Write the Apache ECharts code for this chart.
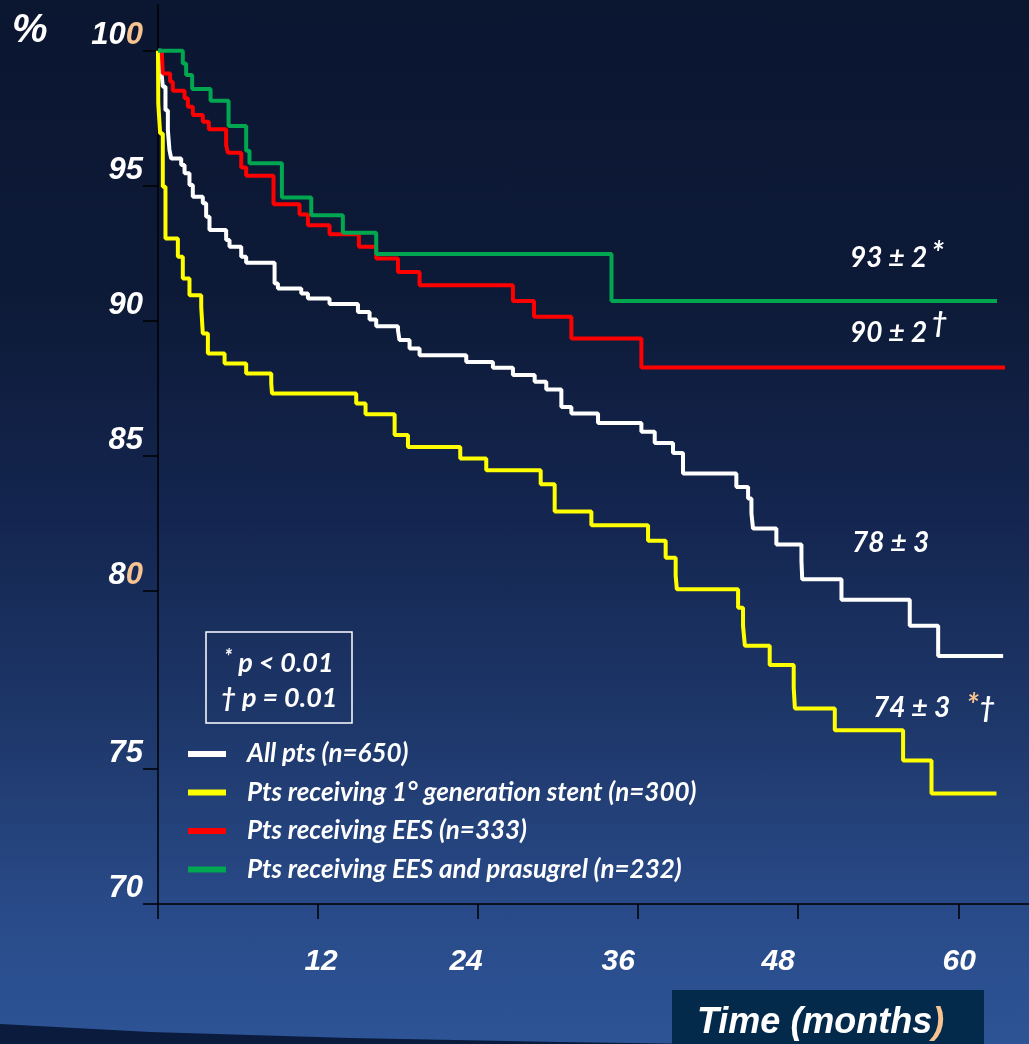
<!DOCTYPE html>
<html><head><meta charset="utf-8">
<script src="https://cdn.jsdelivr.net/npm/echarts@6/dist/echarts.min.js"></script>
<style>
html,body{margin:0;padding:0;}
#c{width:1029px;height:1044px;background:linear-gradient(to bottom,#0b1631 0%,#0d1a37 28%,#142650 50%,#1e386b 70%,#294a88 87%,#2d5496 100%);}
</style></head><body><div id="c"></div>
<script>
// ---------- DATA (months, survival %) ----------
const seriesNames = ['All pts (n=650)', 'Pts receiving 1\u00b0 generation stent (n=300)', 'Pts receiving EES (n=333)', 'Pts receiving EES and prasugrel (n=232)'];
const allPts = [[0,100],[0.24,99.29],[0.36,98.67],[0.56,97.80],[0.74,97.06],[0.86,96.32],[0.99,96.01],[1.74,95.77],[1.99,95.46],[2.36,95.03],[2.61,94.59],[3.36,94.35],[3.61,93.85],[3.86,93.36],[5.11,92.99],[5.36,92.74],[6.24,92.37],[6.61,92.15],[8.74,91.38],[8.99,91.20],[10.74,91.01],[11.24,90.83],[12.86,90.62],[14.99,90.33],[15.86,90.05],[16.36,89.80],[17.99,89.66],[18.1,89.29],[18.86,88.98],[19.61,88.73],[23.11,88.48],[25.11,88.26],[26.61,87.99],[28.24,87.74],[29.11,87.46],[30.24,86.81],[30.99,86.57],[32.99,86.22],[36.24,85.89],[37.24,85.48],[38.61,85.11],[39.36,84.35],[43.36,83.85],[44.24,83.42],[44.49,82.87],[44.61,82.31],[46.36,81.72],[48.24,81.11],[48.3,80.43],[51.24,79.75],[56.36,79.02],[58.49,78.17],[63.36,78.17]];
const firstGen = [[0,100],[0.02,98.05],[0.16,96.94],[0.36,94.96],[0.56,93.05],[1.49,92.37],[1.86,91.57],[2.36,90.95],[3.24,90.52],[3.36,89.53],[3.74,88.79],[4.99,88.42],[6.61,88.05],[8.49,87.68],[8.55,87.31],[14.86,86.94],[15.56,86.54],[17.74,85.77],[18.74,85.33],[22.66,84.90],[24.61,84.47],[28.69,83.95],[29.74,82.94],[32.49,82.43],[36.74,81.86],[38.06,81.23],[38.81,80.56],[38.9,80.06],[43.49,79.53],[43.86,79.02],[44.0,78.46],[45.86,77.92],[47.66,77.28],[47.75,76.70],[50.74,76.09],[55.86,75.24],[57.99,74.09],[62.86,74.09]];
const ees = [[0.28,100],[0.36,99.16],[0.91,98.85],[1.11,98.52],[1.99,98.24],[2.24,97.93],[2.61,97.62],[3.36,97.37],[3.81,97.09],[5.11,96.51],[5.24,96.22],[6.24,95.68],[6.61,95.37],[8.66,94.32],[10.61,93.94],[11.24,93.54],[12.86,93.21],[15.06,92.74],[16.36,92.31],[17.99,91.81],[19.61,91.32],[26.61,90.73],[28.19,90.15],[30.99,89.35],[36.24,88.27],[63.5,88.27]];
const eesPrasugrel = [[0,100],[1.86,99.53],[2.11,99.10],[2.56,98.58],[3.94,98.15],[5.29,97.21],[6.61,96.30],[6.86,95.83],[9.29,94.57],[11.49,93.91],[13.86,93.26],[16.36,92.47],[34.0,90.73],[62.9,90.73]];
const yTickValues = [70, 75, 80, 85, 90, 95, 100];
const xTickValues = [0, 12, 24, 36, 48, 60];
const xTickLabels = ['12', '24', '36', '48', '60'];
const endLabels = ['93 \u00b1 2', '90 \u00b1 2', '78 \u00b1 3', '74 \u00b1 3'];
const pValueLines = ['p < 0.01', '\u2020 p = 0.01'];

// ---------- LAYOUT ----------
const colors = ['#ffffff', '#ffff00', '#ff0000', '#00a650'];
const peach = '#f6c391';
// the original axis stretches the 75–80 band: relative segment lengths
const ySegLen = [5, 5 * 178 / 135, 5, 5, 5, 5];
const yPos = [0]; ySegLen.forEach(l => yPos.push(yPos[yPos.length - 1] + l));
function toAxis(v) {
  for (let i = 0; i < yTickValues.length - 1; i++) {
    if (v <= yTickValues[i + 1] || i === yTickValues.length - 2) {
      const t = (v - yTickValues[i]) / (yTickValues[i + 1] - yTickValues[i]);
      return yPos[i] + t * (yPos[i + 1] - yPos[i]);
    }
  }
}
const pxPerMonth = 160 / 12;
const xLabelNudgePx = [3, -12, -20, -20, 1];
const xLabelPos = xTickLabels.map((l, i) => +l + xLabelNudgePx[i] / pxPerMonth);
const yMax = yPos[yPos.length - 1] + 45.7 / 26.98;

const numFont = "'Liberation Sans', Arial, sans-serif";
const txtFont = "Lato, 'Liberation Sans', sans-serif";
const numStyle = {color: '#fff', fontSize: 31, fontWeight: 'bold', fontStyle: 'italic', fontFamily: numFont};
const annStyle = {fill: '#fff', fontSize: 28, fontFamily: txtFont, fontStyle: 'italic', fontWeight: 'bold'};

const chart = echarts.init(document.getElementById('c'), null, {renderer: 'canvas'});
const data = [allPts, firstGen, ees, eesPrasugrel];

chart.setOption({
  backgroundColor: 'transparent',
  animation: false,
  grid: {left: 158, right: 0, top: 5, bottom: 140, outerBoundsMode: 'none'},
  xAxis: {
    type: 'value', min: 0, max: 65.3,
    axisLine: {onZero: false, lineStyle: {color: '#000', width: 1.5}},
    axisTick: {customValues: xTickValues, length: 15, lineStyle: {color: '#000', width: 1.5}},
    axisLabel: {
      customValues: xLabelPos, margin: 43,
      formatter: v => { let b = 0; xLabelPos.forEach((p, i) => { if (Math.abs(p - v) < Math.abs(xLabelPos[b] - v)) b = i; }); return xTickLabels[b]; },
      ...numStyle, fontSize: 30
    },
    splitLine: {show: false}
  },
  yAxis: {
    type: 'value', min: 0, max: yMax,
    axisLine: {onZero: false, lineStyle: {color: '#000', width: 1.5}},
    axisTick: {customValues: yTickValues.map(toAxis), length: 15, lineStyle: {color: '#000', width: 1.5}},
    axisLabel: {
      customValues: yTickValues.map(toAxis), margin: 15, verticalAlign: 'bottom',
      formatter: v => {
        let b = 0; yPos.forEach((p, i) => { if (Math.abs(p - v) < Math.abs(yPos[b] - v)) b = i; });
        const t = String(yTickValues[b]);
        if (t === '100' || t === '80') return '{w|' + t.slice(0, -1) + '}{p|0}';
        return '{w|' + t + '}';
      },
      rich: {w: {...numStyle}, p: {...numStyle, color: peach}}
    },
    splitLine: {show: false}
  },
  legend: {
    orient: 'vertical', left: 188, top: 741, padding: 0, itemWidth: 38, itemHeight: 6, itemGap: 12.5,
    icon: 'rect', selectedMode: false, data: seriesNames,
    textStyle: {color: '#fff', fontFamily: txtFont, fontStyle: 'italic', fontWeight: 'bold', fontSize: 26, lineHeight: 24, padding: [0, 0, 0, 16]}
  },
  series: data.map((d, i) => ({
    name: seriesNames[i], type: 'line', step: 'end', showSymbol: false, symbol: 'none',
    color: colors[i], lineStyle: {color: colors[i], width: 4},
    data: d.map(([m, v]) => [m, toAxis(v)])
  })),
  graphic: [
    {type: 'polygon', shape: {points: [[0, 1024], [150, 1032], [350, 1038], [560, 1042], [700, 1044], [0, 1044]]}, style: {fill: '#0a1b3d'}},
    {type: 'text', x: 12, y: 31, style: {text: '%', fill: '#fff', font: "italic bold 40px " + numFont, verticalAlign: 'middle'}},
    {type: 'rect', shape: {x: 206, y: 632, width: 146, height: 91}, style: {fill: 'none', stroke: '#fff', lineWidth: 1.5}},
    {type: 'text', x: 279, y: 663, style: {text: '{s|*}{t| ' + pValueLines[0] + '}', align: 'center', verticalAlign: 'middle',
      rich: {s: {...annStyle, fontSize: 20, padding: [0, 0, 10, 0]}, t: {...annStyle, fontSize: 27}}}},
    {type: 'text', x: 279, y: 698, style: {text: pValueLines[1], align: 'center', verticalAlign: 'middle', fill: '#fff', font: "italic bold 27px " + txtFont}},
    {type: 'text', x: 850, y: 258, style: {text: '{n|' + endLabels[0] + '}{s|*}', verticalAlign: 'middle',
      rich: {n: {...annStyle}, s: {...annStyle, fontSize: 32, padding: [0, 0, 8, 4]}}}},
    {type: 'text', x: 850, y: 333, style: {text: '{n|' + endLabels[1] + '}{s|\u2020}', verticalAlign: 'middle',
      rich: {n: {...annStyle}, s: {...annStyle, padding: [0, 0, 20, 4]}}}},
    {type: 'text', x: 852, y: 543, style: {text: endLabels[2], verticalAlign: 'middle', fill: '#fff', font: "italic bold 28px " + txtFont}},
    {type: 'text', x: 873, y: 708, style: {text: '{n|' + endLabels[3] + '}{p|*}{n|\u2020}', verticalAlign: 'middle',
      rich: {n: {...annStyle}, p: {...annStyle, fill: peach, fontSize: 32, padding: [0, 0, 4, 16]}}}},
    {type: 'rect', shape: {x: 672, y: 990, width: 312, height: 60}, style: {fill: '#042a4b'}},
    {type: 'text', x: 697, y: 1023, style: {text: '{a|Time (months}{b|)}', verticalAlign: 'middle',
      rich: {a: {fill: '#fff', fontSize: 36, fontFamily: numFont, fontStyle: 'italic', fontWeight: 'bold'},
             b: {fill: peach, fontSize: 36, fontFamily: numFont, fontStyle: 'italic', fontWeight: 'bold'}}}}
  ]
});
</script></body></html>
